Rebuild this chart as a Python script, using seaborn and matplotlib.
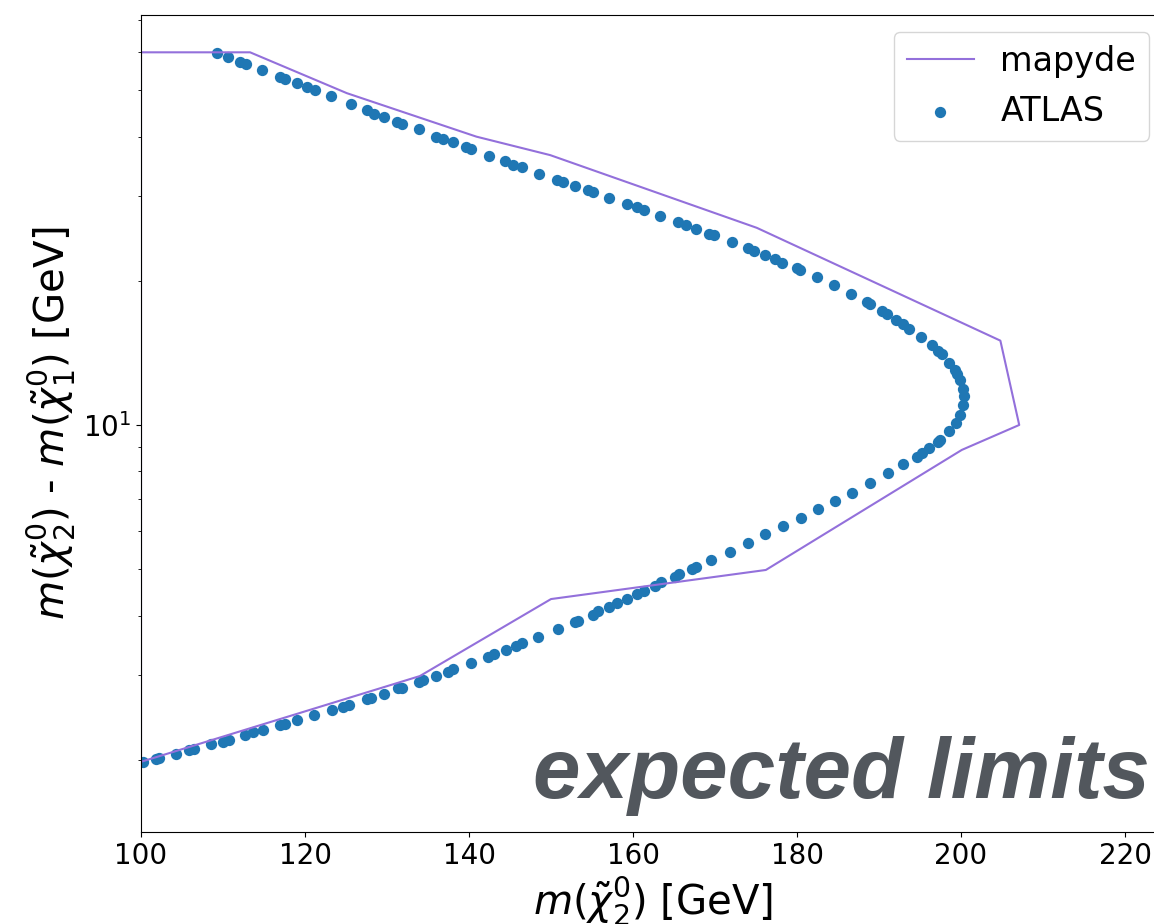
import matplotlib
matplotlib.use("Agg")
import matplotlib.pyplot as plt
import seaborn as sns

# mapyde expected exclusion contour (closed polygon)
mapyde_x = [100, 113.3, 125.1, 140.9, 149.9, 175.1, 204.8, 207.1, 200.1,
            176.2, 150.0, 134.0, 100, 100]
mapyde_y = [60, 60, 49.3, 40.0, 36.6, 25.8, 15.0, 10.0, 8.87,
            4.98, 4.33, 2.99, 1.98, 60]

# ATLAS published expected contour
atlas_x = [109.30, 110.65, 112.07, 112.77, 114.79, 116.95, 117.56, 119.06, 120.28, 121.22,
           123.13, 125.57, 127.52, 128.41, 129.63, 131.26, 131.79, 133.90, 135.98, 136.79,
           138.09, 139.63, 140.21, 142.40, 144.39, 145.40, 146.50, 148.54, 150.77, 151.43,
           152.93, 154.48, 155.09, 157.11, 159.23, 160.52, 161.28, 163.29, 165.52, 166.46,
           167.68, 169.30, 169.88, 172.04, 174.06, 174.76, 176.10, 177.32, 178.21, 179.96,
           180.37, 182.40, 184.51, 186.59, 188.50, 188.90, 190.40, 190.94, 192.07, 192.96,
           193.70, 195.12, 196.43, 197.23, 197.65, 198.54, 199.27, 199.48, 199.88, 200.21,
           200.37, 200.28, 199.88, 199.39, 198.54, 197.44, 197.23, 196.13, 195.21, 194.60,
           192.96, 191.04, 188.91, 186.74, 184.67, 182.56, 180.49, 178.32, 176.15, 173.98,
           171.80, 169.54, 167.71, 167.23, 165.63, 165.06, 163.37, 162.65, 161.34, 160.48,
           159.27, 158.07, 157.10, 155.76, 155.07, 153.34, 152.87, 150.84, 148.43, 146.50,
           145.78, 144.48, 143.02, 142.26, 140.23, 138.06, 137.44, 135.99, 134.35, 133.96,
           131.79, 131.32, 129.67, 128.01, 127.52, 125.40, 124.67, 123.26, 121.13, 119.06,
           117.56, 116.95, 114.91, 113.70, 112.68, 110.77, 109.96, 108.50, 106.46, 105.89,
           104.27, 102.23, 101.83, 100.21]
atlas_y = [59.9, 58.6, 57.3, 56.7, 55.1, 53.3, 52.8, 51.7, 50.7, 50.0,
           48.6, 46.8, 45.5, 44.7, 44.0, 43.0, 42.5, 41.4, 40.0, 39.5,
           38.9, 38.0, 37.7, 36.5, 35.5, 34.9, 34.5, 33.5, 32.5, 32.1,
           31.6, 30.9, 30.6, 29.8, 29.0, 28.5, 28.1, 27.3, 26.5, 26.1,
           25.7, 25.1, 24.9, 24.1, 23.4, 23.1, 22.6, 22.2, 21.8, 21.3,
           21.1, 20.4, 19.6, 18.8, 18.1, 17.9, 17.3, 17.05, 16.6, 16.25,
           15.9, 15.3, 14.7, 14.3, 14.1, 13.5, 13.0, 12.8, 12.4, 11.9,
           11.5, 11.0, 10.5, 10.1, 9.72, 9.30, 9.23, 8.94, 8.73, 8.59,
           8.28, 7.94, 7.55, 7.22, 6.94, 6.67, 6.40, 6.15, 5.91, 5.68,
           5.44, 5.23, 5.06, 5.00, 4.88, 4.82, 4.69, 4.62, 4.51, 4.44,
           4.33, 4.24, 4.16, 4.08, 4.02, 3.90, 3.87, 3.75, 3.60, 3.50,
           3.45, 3.39, 3.32, 3.27, 3.18, 3.09, 3.05, 2.99, 2.93, 2.91,
           2.83, 2.82, 2.74, 2.69, 2.68, 2.60, 2.58, 2.54, 2.48, 2.42,
           2.38, 2.36, 2.31, 2.28, 2.25, 2.20, 2.18, 2.16, 2.11, 2.10,
           2.06, 2.02, 2.01, 1.98]

fig = plt.figure(figsize=(11.54, 9.24), dpi=100)
ax = fig.add_axes([0.1222, 0.0996, 0.8882, 0.8842])

sns.lineplot(x=mapyde_x, y=mapyde_y, sort=False, estimator=None,
             color="mediumpurple", linewidth=1.5, label="mapyde", ax=ax)
sns.scatterplot(x=atlas_x, y=atlas_y, color="#1f77b4", s=66, linewidth=0,
                label="ATLAS", ax=ax)

ax.set_yscale("log")
ax.set_xlim(100, 225)
ax.set_ylim(1.413, 71.8)
ax.set_xticks([100, 120, 140, 160, 180, 200, 220])
ax.tick_params(labelsize=20)

ax.set_xlabel(r"$m(\tilde{\chi}_2^0)$ [GeV]", fontsize=29)
ax.set_ylabel(r"$m(\tilde{\chi}_2^0)$ - $m(\tilde{\chi}_1^0)$ [GeV]", fontsize=29)

ax.legend(loc="upper right", fontsize=24)

ax.text(0.9844, 0.0416, "expected limits", transform=ax.transAxes,
        ha="right", va="baseline", fontsize=61.5, fontweight="bold",
        fontstyle="italic", family="Liberation Sans", color="#52575d")

fig.savefig("out.png", dpi=100)
